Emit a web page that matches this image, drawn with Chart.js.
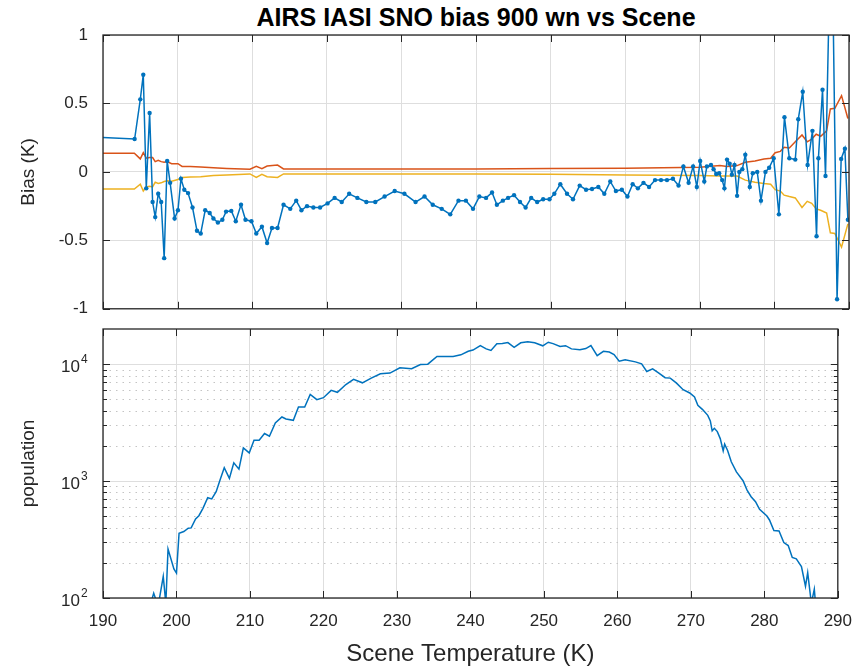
<!DOCTYPE html>
<html>
<head>
<meta charset="utf-8">
<script src="https://cdn.jsdelivr.net/npm/chart.js@4.4.0/dist/chart.umd.min.js"></script>
<style>
  body { margin: 0; background: #fff; }
  #wrap { position: relative; width: 865px; height: 671px; font-family: "Liberation Sans", Arial, sans-serif; }
  #title { position: absolute; left: 103px; width: 746px; top: 2px; text-align: center;
           font-weight: bold; font-size: 25px; line-height: 30px; color: #000; }
  canvas { position: absolute; left: 0; }
  #bias-chart { top: 0; }
  #pop-chart { top: 318px; }
</style>
</head>
<body>
<div id="wrap">
  <div id="title">AIRS IASI SNO bias 900 wn vs Scene</div>
  <canvas id="bias-chart" width="865" height="334"></canvas>
  <canvas id="pop-chart" width="865" height="353"></canvas>
</div>
<script>
// mean bias per scene temperature bin
let biasTemp = [186, 194.24, 195.0, 195.4, 195.8, 196.25, 196.65, 197.0, 197.4, 197.8, 198.2, 198.6, 199.0, 199.6,
  200.05, 200.45, 200.9, 201.4, 202.0, 202.6, 203.1, 203.7, 204.3, 204.8, 205.4, 206.0, 206.5, 207.2, 207.8, 208.5,
  209.1, 209.9, 210.55, 211.3, 212.0, 212.65, 213.4, 214.2, 215.1, 215.9, 216.6, 217.35, 218.2, 219.1, 220.1, 221.05,
  222.0, 223.0, 224.1, 225.3, 226.5, 227.75, 229.1, 230.4, 231.9, 233.1, 234.2, 235.4, 236.55, 237.65, 238.65, 239.6,
  240.45, 241.35, 242.15, 242.8, 243.6, 244.3, 245.1, 245.9, 246.65, 247.4, 248.2, 249.0, 249.85, 250.5, 251.3, 252.2,
  253.0, 253.9, 254.75, 255.55, 256.4, 257.2, 258.0, 258.75, 259.55, 260.3, 261.0, 261.7, 262.45, 263.2, 264.0, 264.8,
  265.6, 266.4, 267.15, 267.8, 268.5, 269.1, 269.6, 270.05, 270.6, 270.95, 271.5, 271.85, 272.2, 272.6, 273.0, 273.3,
  273.65, 274.0, 274.3, 274.65, 275.0, 275.3, 275.7, 276.1, 276.7, 277.1, 277.7, 278.2, 278.8, 279.3, 279.9, 280.6,
  281.35, 282.0, 282.8, 283.2, 283.8, 284.45, 285.1, 285.65, 285.9, 286.45, 286.85, 287.65, 288.4, 288.95, 289.45, 289.85];
let biasValue = [0.262, 0.24, 0.53, 0.71, -0.12, 0.43, -0.22, -0.33, -0.16, -0.22, -0.63, 0.08, -0.08, -0.34,
  -0.28, -0.05, -0.13, -0.155, -0.26, -0.43, -0.45, -0.28, -0.30, -0.34, -0.37, -0.35, -0.29, -0.285, -0.36, -0.24,
  -0.35, -0.36, -0.45, -0.40, -0.52, -0.41, -0.41, -0.24, -0.27, -0.21, -0.28, -0.25, -0.26, -0.26, -0.23, -0.19,
  -0.22, -0.16, -0.19, -0.22, -0.22, -0.18, -0.14, -0.16, -0.22, -0.18, -0.24, -0.27, -0.31, -0.21, -0.21, -0.27,
  -0.18, -0.19, -0.15, -0.24, -0.21, -0.19, -0.17, -0.22, -0.26, -0.19, -0.22, -0.20, -0.20, -0.16, -0.09, -0.16,
  -0.20, -0.10, -0.13, -0.125, -0.11, -0.16, -0.07, -0.14, -0.13, -0.18, -0.09, -0.12, -0.08, -0.11, -0.06, -0.06,
  -0.06, -0.05, -0.10, 0.04, -0.08, 0.04, -0.11, 0.08, -0.07, 0.04, 0.05, 0.02, -0.015, -0.01, -0.06, -0.12,
  0.09, 0.06, -0.02, 0.05, -0.175, 0.0, 0.02, 0.125, -0.11, -0.01, 0.0, -0.21, 0.0, 0.03, 0.10, -0.31,
  0.40, 0.10, 0.09, 0.385, 0.585, 0.05, 0.30, -0.47, 0.10, 0.60, -0.03, 2.05, -0.93, 0.095, 0.17, -0.35];

// upper / lower envelope lines
let envTemp = [186, 194.2, 195.0, 195.4, 195.8, 196.25, 196.65, 197.0, 197.4, 197.8, 198.2, 198.6, 199.2, 200.05,
  200.6, 201.7, 203.1, 204.8, 206.6, 209.7, 210.55, 211.3, 212.0, 213.4, 214.2, 220, 230, 240, 250, 260, 270.0,
  272.7, 273.65, 275.0, 276.1, 277.4, 278.6, 279.5, 280.1, 280.8, 281.3, 282.0, 282.8, 283.7, 284.4, 285.0, 285.6,
  286.2, 287.0, 287.5, 288.1, 289.0, 289.85];
let envUpper = [0.137, 0.137, 0.095, 0.14, 0.10, 0.105, 0.105, 0.075, 0.085, 0.075, 0.07, 0.075, 0.06, 0.06,
  0.04, 0.04, 0.035, 0.03, 0.025, 0.02, 0.04, 0.024, 0.043, 0.05, 0.022, 0.021, 0.022, 0.022, 0.024, 0.027, 0.034,
  0.046, 0.04, 0.046, 0.07, 0.08, 0.095, 0.10, 0.14, 0.15, 0.18, 0.175, 0.22, 0.27, 0.22, 0.24, 0.275,
  0.26, 0.30, 0.46, 0.465, 0.557, 0.39];
let envLower = [-0.125, -0.125, -0.09, -0.14, -0.11, -0.105, -0.11, -0.075, -0.085, -0.08, -0.07, -0.065, -0.068, -0.055,
  -0.04, -0.038, -0.035, -0.027, -0.022, -0.015, -0.04, -0.018, -0.035, -0.04, -0.015, -0.015, -0.016, -0.016, -0.018, -0.022, -0.027,
  -0.03, -0.03, -0.03, -0.06, -0.075, -0.085, -0.09, -0.13, -0.14, -0.17, -0.18, -0.19, -0.26, -0.215, -0.23, -0.27,
  -0.28, -0.30, -0.445, -0.45, -0.55, -0.38];

// number of SNOs per bin
let popTemp = [195, 196.0, 196.9, 197.5, 198.2, 198.55, 198.85, 199.65, 200.0, 200.35, 201.0, 201.6, 202.0, 202.6,
  203.05, 203.6, 204.25, 204.8, 205.4, 205.95, 206.5, 207.2, 207.8, 208.5, 209.1, 209.9, 210.55, 211.25, 211.98,
  212.65, 213.45, 214.35, 214.9, 215.9, 216.6, 217.45, 218.2, 219.1, 220.0, 221.05, 221.9, 223.05, 224.1, 225.3,
  226.5, 227.75, 229.05, 230.4, 232.0, 233.2, 234.2, 235.45, 236.5, 237.65, 238.7, 239.7, 240.35, 241.35, 242.15,
  242.8, 243.6, 244.35, 245.1, 245.95, 246.85, 247.8, 248.75, 249.85, 250.6, 251.25, 252.2, 252.95, 253.75, 254.9,
  255.7, 256.4, 257.25, 258.1, 258.9, 259.55, 260.25, 261.05, 262.45, 263.3, 264.0, 264.8, 265.6, 266.5, 267.2,
  268.05, 268.95, 269.85, 270.5, 270.95, 271.6, 272.3, 272.65, 272.9, 273.2, 273.6, 274.0, 274.4, 274.6, 275.0,
  275.5, 276.2, 277.1, 277.65, 278.2, 278.8, 279.35, 280.35, 280.7, 281.3, 282.0, 282.65, 283.25, 283.8, 284.35,
  285.05, 285.6, 285.9, 286.4, 286.8, 287.0, 288];
let popCount = [40, 70, 110, 85, 153, 90, 262, 177, 163, 358, 370, 395, 398, 474,
  506, 585, 720, 703, 811, 1033, 1300, 1055, 1432, 1265, 1923, 1742, 2240, 2240, 2553,
  2421, 3143, 3533, 3400, 3310, 4300, 4300, 5520, 4977, 5170, 5970, 5750, 6700, 7410, 6930,
  7590, 8270, 8400, 9310, 9140, 9940, 10000, 11640, 11640, 11640, 12020, 12900, 13200, 14420, 13520,
  13100, 14930, 15040, 15300, 13960, 15250, 15520, 15250, 14360, 15420, 15000, 14160, 14400, 13520, 13300,
  13600, 14420, 11850, 12900, 12700, 12100, 10620, 10900, 10470, 10070, 8660, 9140, 8440, 7660, 7600,
  6890, 6050, 5670, 5240, 4450, 4090, 3650, 3270, 2690, 2830, 2650, 2310, 1810, 2070, 1830,
  1462, 1200, 1007, 838, 735, 666, 574, 503, 465, 377, 375, 298, 281, 222, 216,
  186, 126, 165, 90, 119, 85, 60];

let biasTicks = [-1, -0.5, 0, 0.5, 1];
let popDecades = [100, 1000, 10000];

const blue = '#0072BD';
const red = '#D95319';
const yellow = '#EDB120';
const axisColor = '#262626';
const gridColor = '#dedede';

Chart.defaults.font.family = '"Liberation Sans", Arial, sans-serif';
Chart.defaults.font.size = 17;
Chart.defaults.color = axisColor;

function toPoints(xs, ys) {
    return xs.map((x, i) => ({ x: x, y: ys[i] }));
}

// MATLAB style box with inward ticks on all four sides
const boxTicks = {
    id: 'boxTicks',
    afterDatasetsDraw(chart) {
        const { ctx, chartArea: a, scales } = chart;
        ctx.save();
        ctx.strokeStyle = axisColor;
        ctx.lineWidth = 1;
        ctx.beginPath();
        scales.x.ticks.forEach(t => {
            const px = Math.round(scales.x.getPixelForValue(t.value)) + 0.5;
            ctx.moveTo(px, a.bottom); ctx.lineTo(px, a.bottom - 7);
            ctx.moveTo(px, a.top); ctx.lineTo(px, a.top + 7);
        });
        scales.y.ticks.forEach(t => {
            const py = Math.round(scales.y.getPixelForValue(t.value)) + 0.5;
            ctx.moveTo(a.left, py); ctx.lineTo(a.left + 7, py);
            ctx.moveTo(a.right, py); ctx.lineTo(a.right - 7, py);
        });
        ctx.stroke();
        ctx.lineWidth = 1.3;
        ctx.strokeRect(a.left, a.top, a.width, a.height);
        ctx.restore();
    }
};

// dotted minor grid, minor ticks and 10^n labels for the log axis
const logExtras = {
    id: 'logExtras',
    beforeDatasetsDraw(chart) {
        const { ctx, chartArea: a, scales } = chart;
        const y = scales.y;
        ctx.save();
        ctx.strokeStyle = '#c4c4c4';
        ctx.lineWidth = 1;
        ctx.setLineDash([1.5, 5]);
        ctx.beginPath();
        popDecades.forEach(d => {
            for (let k = 2; k <= 9; k++) {
                const v = d * k;
                if (v >= y.max) continue;
                const py = Math.round(y.getPixelForValue(v)) + 0.5;
                ctx.moveTo(a.left, py); ctx.lineTo(a.right, py);
            }
        });
        ctx.stroke();
        ctx.restore();
    },
    afterDraw(chart) {
        const { ctx, chartArea: a, scales } = chart;
        const y = scales.y;
        ctx.save();
        ctx.strokeStyle = axisColor;
        ctx.lineWidth = 1;
        ctx.beginPath();
        popDecades.forEach(d => {
            for (let k = 2; k <= 9; k++) {
                const v = d * k;
                if (v >= y.max) continue;
                const py = Math.round(y.getPixelForValue(v)) + 0.5;
                ctx.moveTo(a.left, py); ctx.lineTo(a.left + 4, py);
                ctx.moveTo(a.right, py); ctx.lineTo(a.right - 4, py);
            }
        });
        ctx.stroke();
        ctx.fillStyle = axisColor;
        ctx.textBaseline = 'alphabetic';
        popDecades.forEach(d => {
            const py = y.getPixelForValue(d);
            const exp = String(Math.round(Math.log10(d)));
            ctx.font = '17px "Liberation Sans", Arial, sans-serif';
            ctx.textAlign = 'right';
            const expWidth = 8;
            ctx.fillText('10', a.left - 15 - expWidth, py + 8);
            ctx.font = '12px "Liberation Sans", Arial, sans-serif';
            ctx.textAlign = 'left';
            ctx.fillText(exp, a.left - 15 - expWidth + 1, py - 1);
        });
        ctx.restore();
    }
};

new Chart(document.querySelector('#bias-chart').getContext('2d'), {
    type: 'line',
    data: {
        datasets: [
            {
                label: 'bias',
                data: toPoints(biasTemp, biasValue),
                borderColor: blue,
                backgroundColor: blue,
                borderWidth: 1.5,
                pointRadius: 2.2,
                pointBorderWidth: 0,
                order: 1
            },
            {
                label: 'upper',
                data: toPoints(envTemp, envUpper),
                borderColor: red,
                borderWidth: 1.5,
                pointRadius: 0,
                order: 2
            },
            {
                label: 'lower',
                data: toPoints(envTemp, envLower),
                borderColor: yellow,
                borderWidth: 1.5,
                pointRadius: 0,
                order: 3
            }
        ]
    },
    options: {
        responsive: false,
        animation: false,
        layout: { padding: { top: 35, right: 16, bottom: 9, left: 0 } },
        plugins: { legend: { display: false }, tooltip: { enabled: false } },
        scales: {
            x: {
                type: 'linear',
                min: 190,
                max: 290,
                ticks: { display: false, stepSize: 10 },
                grid: { color: gridColor, lineWidth: 1, drawTicks: false },
                border: { display: false },
                afterFit(scale) { scale.height = 0; }
            },
            y: {
                min: -1,
                max: 1,
                afterBuildTicks(scale) { scale.ticks = biasTicks.map(v => ({ value: v })); },
                ticks: { padding: 15, callback: v => String(v) },
                grid: { color: gridColor, lineWidth: 1, drawTicks: false },
                border: { display: false },
                title: { display: true, text: 'Bias (K)', font: { size: 19 }, padding: { top: 17 } },
                afterFit(scale) { scale.width = 103; }
            }
        }
    },
    plugins: [boxTicks]
});

new Chart(document.querySelector('#pop-chart').getContext('2d'), {
    type: 'line',
    data: {
        datasets: [{
            label: 'population',
            data: toPoints(popTemp, popCount),
            borderColor: blue,
            borderWidth: 1.5,
            pointRadius: 0
        }]
    },
    options: {
        responsive: false,
        animation: false,
        layout: { padding: { top: 11, right: 16, bottom: 0, left: 0 } },
        plugins: { legend: { display: false }, tooltip: { enabled: false } },
        scales: {
            x: {
                type: 'linear',
                min: 190,
                max: 290,
                ticks: { stepSize: 10, padding: 13, maxRotation: 0 },
                grid: { color: gridColor, lineWidth: 1, drawTicks: false },
                border: { display: false },
                title: { display: true, text: 'Scene Temperature (K)', font: { size: 24 }, padding: { bottom: 2 } },
                afterFit(scale) { scale.height = 73; }
            },
            y: {
                type: 'logarithmic',
                min: 100,
                max: 20000,
                afterBuildTicks(scale) { scale.ticks = popDecades.map(v => ({ value: v })); },
                ticks: { display: false },
                grid: { color: gridColor, lineWidth: 1, drawTicks: false },
                border: { display: false },
                title: { display: true, text: 'population', font: { size: 19 }, padding: { top: 17 } },
                afterFit(scale) { scale.width = 103; }
            }
        }
    },
    plugins: [boxTicks, logExtras]
});
</script>
</body>
</html>
